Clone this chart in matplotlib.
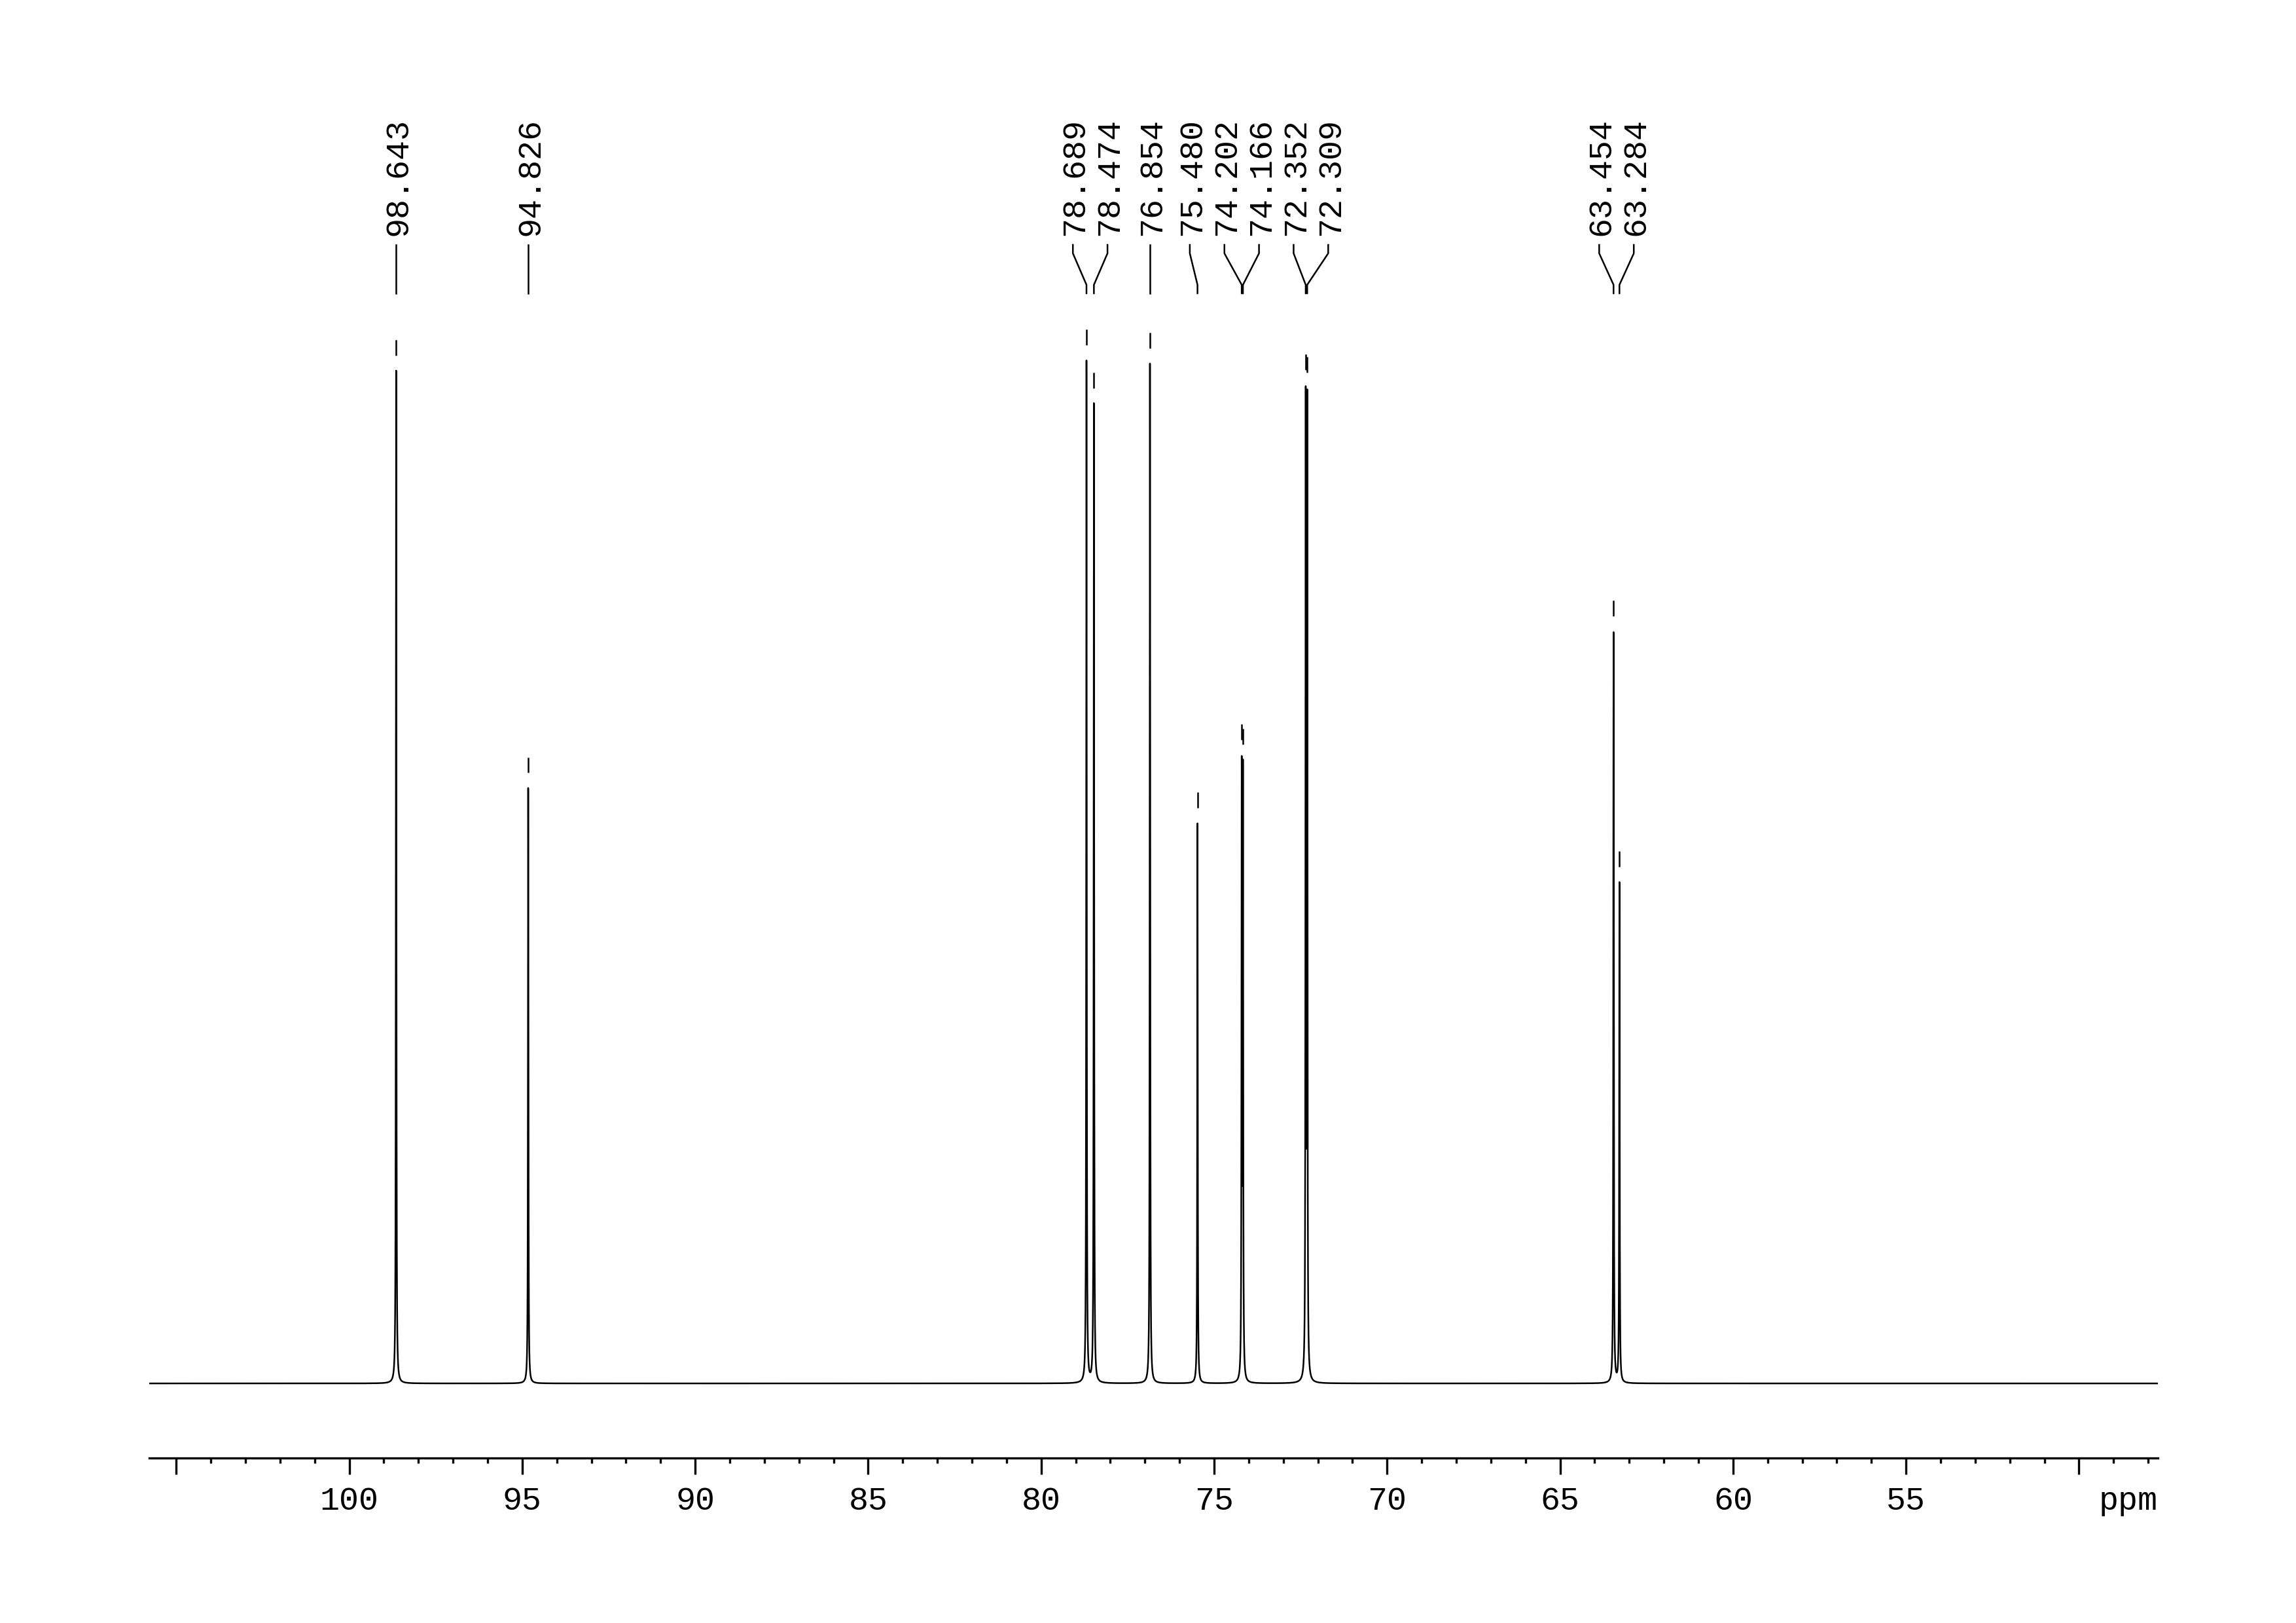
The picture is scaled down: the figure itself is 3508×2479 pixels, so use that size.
import numpy as np
import matplotlib
matplotlib.use('Agg')
import matplotlib.pyplot as plt
from matplotlib.ticker import MultipleLocator
from matplotlib.transforms import blended_transform_factory, offset_copy

plt.rcParams['font.family'] = ['Liberation Mono', 'DejaVu Sans Mono']

# peak list (ppm, height relative to tallest = 100)
peak_ppm = [98.643, 94.826, 78.689, 78.474, 76.854, 75.480,
            74.202, 74.166, 72.352, 72.309, 63.454, 63.284]
peak_height = [99.0, 58.2, 100.0, 95.8, 99.7, 54.8,
               61.4, 61.0, 97.6, 97.3, 73.5, 49.0]

major_ticks = [105, 100, 95, 90, 85, 80, 75, 70, 65, 60, 55, 50]
tick_labels = ['', '100', '95', '90', '85', '80', '75', '70', '65', '60', '55', '']

x_left, x_right = 105.78, 47.72
gamma = 0.008   # lorentzian half width, ppm


def lorentz(d):
    return 1.0 / (1.0 + (d / gamma) ** 2)


# amplitudes so the summed curve hits the read heights at each peak
M = lorentz(np.subtract.outer(peak_ppm, peak_ppm))
amp = np.linalg.solve(M, peak_height)

ppm = np.linspace(x_left, x_right, 80000)
spec = lorentz(np.subtract.outer(ppm, peak_ppm)) @ amp


def spread_labels(pos, gap):
    # push label positions apart so they are at least `gap` ppm from each other
    order = np.argsort(pos)
    groups = []
    for i in order:
        groups.append([i])
        while len(groups) > 1:
            a, b = groups[-2], groups[-1]
            ca = np.mean([pos[k] for k in a])
            cb = np.mean([pos[k] for k in b])
            top_a = ca + gap * (len(a) - 1) / 2
            bot_b = cb - gap * (len(b) - 1) / 2
            if bot_b - top_a < gap:
                groups[-2] = a + b
                groups.pop()
            else:
                break
    out = np.zeros(len(pos))
    for g in groups:
        c = np.mean([pos[k] for k in g])
        n = len(g)
        for j, k in enumerate(g):
            out[k] = c + gap * (j - (n - 1) / 2)
    return out


label_pos = spread_labels(peak_ppm, 1.0)

fig = plt.figure(figsize=(3508 / 300, 2479 / 300), dpi=300)
ax = fig.add_axes([0.06499, 0.10165, 0.87486, 0.71763])

ax.plot(ppm, spec, color='black', lw=0.6)

# small peak markers above each top
h = np.array(peak_height)
ax.vlines(peak_ppm, h + 1.47, h + 3.0, color='black', lw=0.6)

ax.set_xlim(x_left, x_right)
ax.set_ylim(-7.29, 106.53)

ax.set_xticks(major_ticks)
ax.set_xticklabels(tick_labels)
ax.xaxis.set_minor_locator(MultipleLocator(1))
ax.tick_params(axis='x', which='major', length=6, width=0.8, pad=4.2,
               labelsize=12, direction='out')
ax.tick_params(axis='x', which='minor', length=1.9, width=0.8, direction='out')
ax.set_yticks([])
for s in ['left', 'right', 'top']:
    ax.spines[s].set_visible(False)
ax.spines['bottom'].set_linewidth(0.8)

ax.annotate('ppm', xy=(1, 0), xycoords='axes fraction', xytext=(0, -10.2),
            textcoords='offset points', ha='right', va='top', fontsize=12)

# peak labels with connector lines
trans = blended_transform_factory(ax.transData, ax.transAxes)
trans_txt = offset_copy(trans, fig=fig, x=0.8, y=0, units='points')
for p, lp in zip(peak_ppm, label_pos):
    ax.plot([lp, lp, p, p], [1.0416, 1.0343, 1.0073, 1.0], transform=trans,
            color='black', lw=0.6, clip_on=False)
    ax.text(lp, 1.0495, f'{p:.3f}', transform=trans_txt, rotation=90,
            ha='center', va='bottom', fontsize=12, clip_on=False)

fig.savefig('out.png', dpi=300, facecolor='white')
